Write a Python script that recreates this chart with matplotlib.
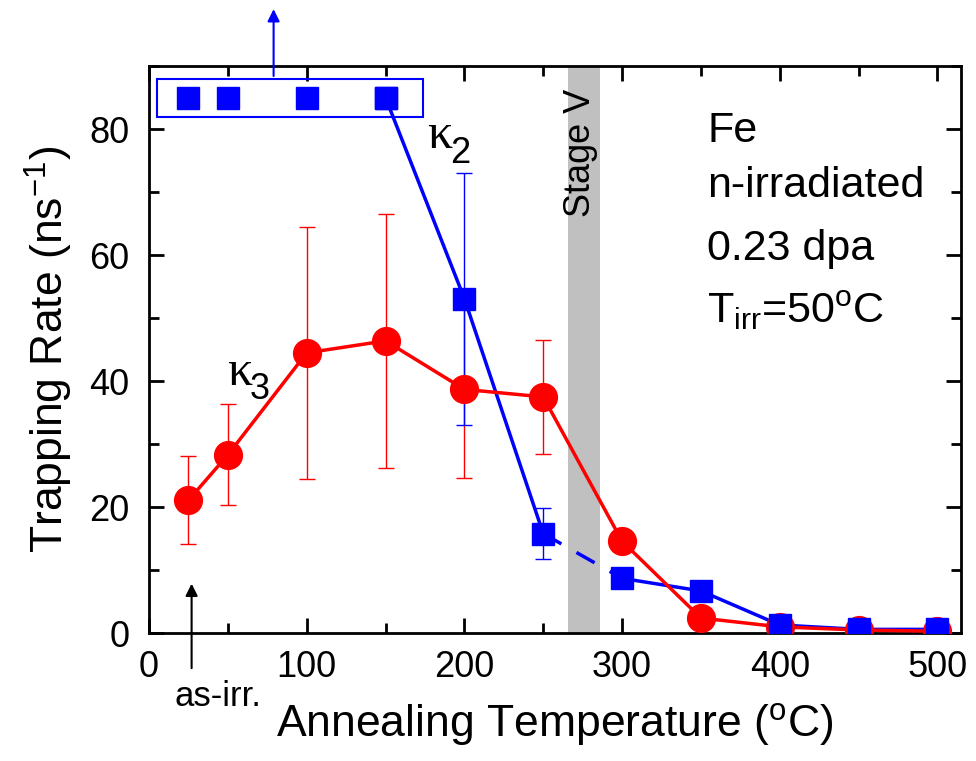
import numpy as np
import matplotlib.pyplot as plt
from matplotlib.patches import Rectangle

plt.rcParams['font.family'] = ['Liberation Sans', 'DejaVu Sans']
plt.rcParams['mathtext.fontset'] = 'custom'
plt.rcParams['mathtext.rm'] = 'Liberation Sans'

# kappa_3 (red circles)
t3 = [25, 50, 100, 150, 200, 250, 300, 350, 400, 450, 500]
k3 = [21.1, 28.3, 44.5, 46.4, 38.7, 37.5, 14.6, 2.4, 1.0, 0.5, 0.3]
k3_err = [7.0, 8.0, 20.0, 20.2, 14.0, 9.0, 0, 0, 0, 0, 0]

# kappa_2 (blue squares); the first four are lower bounds (off-scale)
t2_low = [25, 50, 100, 150]
k2_low = [85, 85, 85, 85]
t2 = [150, 200, 250, 300, 350, 400, 450, 500]
k2 = [85, 53.1, 15.8, 8.7, 6.7, 1.3, 0.6, 0.6]
k2_err = [0, 20.0, 4.0, 0, 0, 0, 0, 0]

red = '#ff0000'
blue = '#0000ff'

fig = plt.figure(figsize=(9.76, 7.61), dpi=100)
ax = fig.add_axes([0.1527, 0.168, 0.832, 0.745])

# stage V band
ax.axvspan(265.5, 286, color='#c0c0c0', lw=0, zorder=0)
ax.text(273.5, 76.2, 'Stage V', rotation=90, ha='center', va='center', fontsize=26)

# red errors + line
ax.errorbar(t3[:6], k3[:6], yerr=k3_err[:6], fmt='none',
            ecolor=red, elinewidth=1, capsize=6, capthick=1, zorder=2)
ax.plot(t3, k3, '-o', color=red, lw=2.5, ms=20, zorder=4)

# blue errors + line
ax.errorbar(t2[1:3], k2[1:3], yerr=k2_err[1:3], fmt='none',
            ecolor=blue, elinewidth=1, capsize=6, capthick=1, zorder=2)
ax.plot(t2[:3], k2[:3], '-', color=blue, lw=2.5, zorder=3)
ax.plot(t2[2:4], k2[2:4], '--', color=blue, lw=2.5, dashes=(6, 5), zorder=3)
ax.plot(t2[3:], k2[3:], '-', color=blue, lw=2.5, zorder=3)
ax.plot(t2, k2, 's', color=blue, ms=16.5, lw=0, zorder=5)
ax.plot(t2_low, k2_low, 's', color=blue, ms=16.5, lw=0, zorder=5)

# box around off-scale points + arrow
ax.add_patch(Rectangle((5, 82), 169, 6, fill=False, ec=blue, lw=1.5, zorder=6))
ax.annotate('', xy=(79, 99.5), xytext=(79, 88), xycoords='data',
            arrowprops=dict(arrowstyle='-|>', color=blue, lw=1.5,
                            mutation_scale=18), annotation_clip=False)

# as-irr. arrow
ax.annotate('', xy=(27, 8.3), xytext=(27, -6),
            arrowprops=dict(arrowstyle='-|>', color='black', lw=1.5,
                            mutation_scale=18), annotation_clip=False)
ax.text(44, -11.6, 'as-irr.', ha='center', va='baseline', fontsize=25,
        clip_on=False)

# kappa labels
ax.text(176, 79, 'κ', fontsize=36, family='Liberation Serif', ha='left', va='center')
ax.text(191, 74.7, '2', fontsize=26, ha='left', va='baseline')
ax.text(49.4, 41.4, 'κ', fontsize=36, family='Liberation Serif', ha='left', va='center')
ax.text(64, 37.2, '3', fontsize=26, ha='left', va='baseline')

# info text
ax.text(354, 77.9, 'Fe', fontsize=31, ha='left', va='baseline')
ax.text(354, 69.2, 'n-irradiated', fontsize=31, ha='left', va='baseline')
ax.text(354, 59.3, '0.23 dpa', fontsize=31, ha='left', va='baseline')
ax.text(354, 49.2, r'T$_{\mathrm{irr}}$=50$^{\mathrm{o}}$C', fontsize=31,
        ha='left', va='baseline')

ax.set_xlim(0, 515)
ax.set_ylim(0, 90)
ax.set_xticks([0, 100, 200, 300, 400, 500])
ax.set_xticks(np.arange(50, 515, 100), minor=True)
ax.set_yticks([0, 20, 40, 60, 80])
ax.set_yticks([10, 30, 50, 70, 90], minor=True)
ax.tick_params(which='both', direction='in', top=True, right=True, width=2,
               labelsize=26)
ax.tick_params(which='major', length=11)
ax.tick_params(axis='x', which='major', pad=12)
ax.tick_params(axis='y', which='major', pad=14)
ax.tick_params(which='minor', length=7)
for s in ax.spines.values():
    s.set_linewidth(2)

ax.set_xlabel(r'Annealing Temperature ($^{\mathrm{o}}$C)', fontsize=32, labelpad=12)
ax.set_ylabel(r'Trapping Rate (ns$^{\mathrm{-1}}$)', fontsize=32, labelpad=10)

fig.savefig('out.png', dpi=100)
